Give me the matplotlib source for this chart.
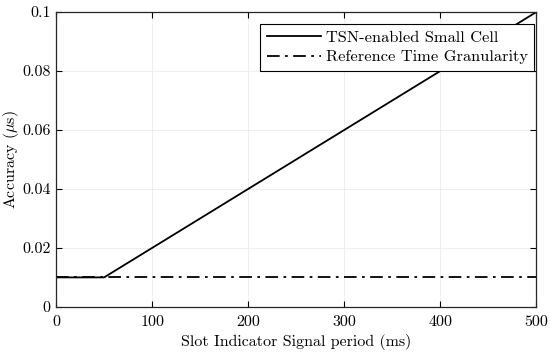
import numpy as np
import matplotlib
matplotlib.use("Agg")
import matplotlib.pyplot as plt

plt.rcParams['font.family'] = 'serif'
plt.rcParams['font.serif'] = ['cmr10']
plt.rcParams['mathtext.fontset'] = 'cm'
plt.rcParams['axes.formatter.use_mathtext'] = True

# data
period_ms = [0, 50, 500]
tsn_accuracy = [0.01, 0.01, 0.1]
ref_period = [0, 500]
ref_granularity = [0.01, 0.01]

fig = plt.figure(figsize=(5.5, 3.56), dpi=100)
ax = fig.add_axes([0.102, 0.138, 0.873, 0.828])

ax.plot(period_ms, tsn_accuracy, 'k-', lw=1.3, label='TSN-enabled Small Cell')
ax.plot(ref_period, ref_granularity, 'k-.', lw=1.3, dashes=(7, 3, 1.5, 3),
        label='Reference Time Granularity')

ax.set_xlim(0, 500)
ax.set_ylim(0, 0.1)
ax.set_xticks([0, 100, 200, 300, 400, 500])
ax.set_yticks([0, 0.02, 0.04, 0.06, 0.08, 0.1])
ax.set_yticklabels(['0', '0.02', '0.04', '0.06', '0.08', '0.1'])
ax.set_xticklabels(['0', '100', '200', '300', '400', '500'])
ax.tick_params(direction='in', top=True, right=True, labelsize=11.5, length=4, width=0.8)
ax.tick_params(axis='x', pad=6)
ax.tick_params(axis='y', pad=4)
ax.grid(True, color='#ebebeb', lw=0.6)
ax.set_axisbelow(True)
for s in ax.spines.values():
    s.set_linewidth(0.9)
    s.set_color('#262626')

ax.set_xlabel('Slot Indicator Signal period (ms)', fontsize=11.5, labelpad=4)
ax.set_ylabel(r'Accuracy ($\mu$s)', fontsize=11.5)
ax.yaxis.set_label_coords(-0.074, 0.5)

leg = ax.legend(loc='upper right', bbox_to_anchor=(0.996, 0.96), fontsize=11.8,
                fancybox=False, framealpha=1, edgecolor='black', borderaxespad=0,
                handlelength=3.3, handletextpad=0.3, borderpad=0.4, labelspacing=0.3)
leg.get_frame().set_linewidth(0.8)

fig.savefig('out.png', dpi=100)
